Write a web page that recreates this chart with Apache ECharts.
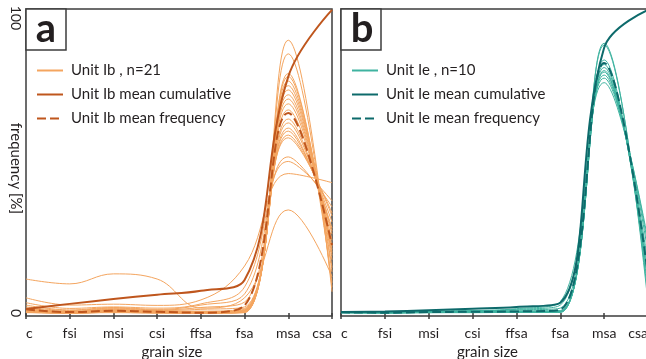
<!DOCTYPE html>
<html><head><meta charset="utf-8">
<script src="https://cdn.jsdelivr.net/npm/echarts@6/dist/echarts.min.js"></script>
<style>html,body{margin:0;padding:0;background:#fff}#c{width:646px;height:359px}</style>
</head><body><div id="c"></div>
<script>
// ---- data ----
const grainSizes = ['c', 'fsi', 'msi', 'csi', 'ffsa', 'fsa', 'msa', 'csa'];
const yTickValues = [0, 100];

const unitIbName = 'Unit Ib , n=21';
const unitIbCumName = 'Unit Ib mean cumulative';
const unitIbFreqName = 'Unit Ib mean frequency';
const unitIbSamples = [
  [11.2, 9.6, 12.9, 11.2, 1.6, 5.0, 34, 12],
  [5.0, 2.6, 2.9, 2.5, 4.3, 15.5, 46, 43],
  [3.4, 1.5, 2.0, 1.6, 3.0, 8.6, 50, 37],
  [2.6, 1.0, 1.8, 1.2, 2.6, 6.3, 51.5, 35],
  [2.0, 0.8, 1.6, 1.0, 1.8, 3.6, 57.8, 33],
  [1.6, 0.5, 1.4, 0.8, 1.2, 2.0, 58.7, 32],
  [1.4, 0.4, 1.2, 0.6, 0.6, 1.5, 60, 30],
  [1.2, 0.3, 1.0, 0.5, 0.4, 1.2, 61, 28],
  [1.0, 0.2, 0.9, 0.4, 0.3, 1.0, 62.7, 27],
  [0.8, 0.2, 0.8, 0.4, 0.2, 0.9, 64, 26],
  [0.7, 0.1, 0.6, 0.3, 0.2, 0.8, 67, 24],
  [0.6, 0.1, 0.5, 0.3, 0.1, 0.7, 69, 22],
  [0.5, 0.1, 0.5, 0.2, 0.1, 0.6, 70.6, 21],
  [0.5, 0.0, 0.4, 0.2, 0.1, 0.5, 72, 20],
  [0.4, 0.0, 0.4, 0.2, 0.0, 0.4, 73.6, 19],
  [0.4, 0.0, 0.3, 0.1, 0.0, 0.4, 75, 17.5],
  [0.3, 0.0, 0.3, 0.1, 0.0, 0.3, 76.5, 15],
  [0.3, 0.0, 0.2, 0.1, 0.0, 0.3, 78, 13.5],
  [0.2, 0.0, 0.2, 0.1, 0.0, 0.2, 79, 10],
  [0.2, 0.0, 0.2, 0.0, 0.0, 0.2, 85.5, 8.5],
  [0.1, 0.0, 0.1, 0.0, 0.0, 0.1, 90, 7]
];
const unitIbMeanCumulative = [1.3, 3.0, 4.6, 6.0, 7.3, 10.9, 78, 100];
const unitIbMeanFrequency = [1.2, 0.3, 0.7, 0.4, 0.1, 2.5, 66, 22.4];

const unitIeName = 'Unit Ie , n=10';
const unitIeCumName = 'Unit Ie mean cumulative';
const unitIeFreqName = 'Unit Ie mean frequency';
const unitIeSamples = [
  [0.3, 0.3, 0.6, 0.8, 1.4, 3.7, 76, 24],
  [0.3, 0.2, 0.5, 0.7, 1.2, 2.6, 77.5, 22.4],
  [0.2, 0.2, 0.4, 0.6, 1.0, 1.6, 78.5, 20],
  [0.2, 0.1, 0.3, 0.5, 0.7, 0.8, 79.5, 16.5],
  [0.2, 0.1, 0.3, 0.4, 0.5, 0.6, 80, 14],
  [0.1, 0.1, 0.2, 0.3, 0.4, 0.5, 81, 12],
  [0.1, 0.1, 0.2, 0.3, 0.3, 0.4, 82, 10],
  [0.1, 0.0, 0.2, 0.2, 0.3, 0.3, 83.5, 7.6],
  [0.1, 0.0, 0.1, 0.2, 0.2, 0.2, 88.4, 5.3],
  [0.1, 0.0, 0.1, 0.1, 0.2, 0.2, 89, 3.3]
];
const unitIeMeanCumulative = [0.3, 0.5, 0.9, 1.4, 2.0, 3.4, 87.5, 100];
const unitIeMeanFrequency = [0.2, 0.1, 0.3, 0.4, 0.5, 1.1, 82.5, 12.5];

// ---- style ----
const FONT = 'Lato, "Liberation Sans", sans-serif';
const INK = '#231f20';
const FRAME = '#3d3d3d';
const colA = { light: '#f4a55f', dark: '#bf561d' };
const colB = { light: '#3fb3a0', dark: '#0d6a6b' };
const SMOOTH = 0.4;

function xAxisFor(gi) {
  return {
    type: 'category', gridIndex: gi, data: grainSizes, boundaryGap: false,
    axisLine: { show: false },
    axisTick: { show: true, length: 6, lineStyle: { color: FRAME, width: 1.5 } },
    axisLabel: { fontFamily: FONT, fontSize: 14, color: INK, margin: 10,
      alignMinLabel: 'left', alignMaxLabel: 'right', interval: 0 },
    name: 'grain size', nameLocation: 'middle', nameGap: 24,
    nameTextStyle: { fontFamily: FONT, fontSize: 15, color: INK, padding: [0, 14, 0, 0] }
  };
}
function yAxisFor(gi, labels) {
  return {
    type: 'value', gridIndex: gi, min: -1, max: 100.3,
    splitLine: { show: false }, axisLine: { show: false }, axisTick: { show: false },
    axisLabel: {
      show: labels, customValues: yTickValues, rotate: -90, margin: 3, align: 'center',
      fontFamily: FONT, fontSize: 14, color: INK,
      formatter: v => v === 100 ? '{t|100}' : '{m|' + v + '}',
      rich: { t: { padding: [0, 0, 0, 16], fontFamily: FONT, fontSize: 14, color: INK },
              m: { fontFamily: FONT, fontSize: 14, color: INK } }
    },
    name: labels ? 'frequency [%]' : '', nameLocation: 'middle', nameRotate: -90, nameGap: 3,
    nameMoveOverlap: false,
    nameTextStyle: { fontFamily: FONT, fontSize: 15, color: INK, padding: [0, 0, 0, 12] }
  };
}

const series = [];
function addPanel(gi, samples, cum, freq, names, col) {
  samples.forEach(d => series.push({
    type: 'line', name: names[0], xAxisIndex: gi, yAxisIndex: gi, data: d,
    smooth: SMOOTH, symbol: 'none', lineStyle: { color: col.light, width: 1 }, itemStyle: { color: col.light }, z: 2
  }));
  series.push({ type: 'line', name: names[1], xAxisIndex: gi, yAxisIndex: gi, data: cum,
    smooth: SMOOTH, symbol: 'none', lineStyle: { color: col.dark, width: 2 }, itemStyle: { color: col.dark }, z: 3 });
  series.push({ type: 'line', name: names[2], xAxisIndex: gi, yAxisIndex: gi, data: freq,
    smooth: SMOOTH, symbol: 'none', lineStyle: { color: col.dark, width: 2, type: [9, 4] }, itemStyle: { color: col.dark }, z: 4 });
}
addPanel(0, unitIbSamples, unitIbMeanCumulative, unitIbMeanFrequency, [unitIbName, unitIbCumName, unitIbFreqName], colA);
addPanel(1, unitIeSamples, unitIeMeanCumulative, unitIeMeanFrequency, [unitIeName, unitIeCumName, unitIeFreqName], colB);

function legendFor(left, names) {
  return {
    data: names, orient: 'vertical', left: left, top: 63, padding: 0,
    itemWidth: 26, itemHeight: 14, itemGap: 9,
    selectedMode: false,
    itemStyle: { opacity: 0, color: 'rgba(0,0,0,0)', borderWidth: 0 },
    textStyle: { fontFamily: FONT, fontSize: 15, color: INK, lineHeight: 14, padding: [0, 0, 0, 3] }
  };
}

const option = {
  animation: false,
  backgroundColor: '#fff',
  grid: [
    { left: 26, top: 9, width: 306, height: 307, show: true, borderColor: FRAME, borderWidth: 1.5,
      containLabel: false, outerBoundsMode: 'none' },
    { left: 341, top: 9, width: 307, height: 307, show: true, borderColor: FRAME, borderWidth: 1.5,
      containLabel: false, outerBoundsMode: 'none' }
  ],
  xAxis: [xAxisFor(0), xAxisFor(1)],
  yAxis: [yAxisFor(0, true), yAxisFor(1, false)],
  legend: [legendFor(36, [unitIbName, unitIbCumName, unitIbFreqName]), legendFor(351, [unitIeName, unitIeCumName, unitIeFreqName])],
  series: series,
  graphic: [
    { type: 'rect', shape: { x: 26, y: 9, width: 40, height: 41 }, style: { fill: '#fff', stroke: FRAME, lineWidth: 1.5 }, z: 100 },
    { type: 'text', x: 46, y: 29, style: { text: 'a', fontFamily: FONT, fontWeight: 'bold', fontSize: 40, fill: INK, align: 'center', verticalAlign: 'middle' }, z: 101 },
    { type: 'rect', shape: { x: 341, y: 9, width: 40, height: 41 }, style: { fill: '#fff', stroke: FRAME, lineWidth: 1.5 }, z: 100 },
    { type: 'text', x: 362, y: 29, style: { text: 'b', fontFamily: FONT, fontWeight: 'bold', fontSize: 40, fill: INK, align: 'center', verticalAlign: 'middle' }, z: 101 }
  ]
};
echarts.init(document.getElementById('c'), null, { renderer: 'canvas' }).setOption(option);
</script>
</body></html>
